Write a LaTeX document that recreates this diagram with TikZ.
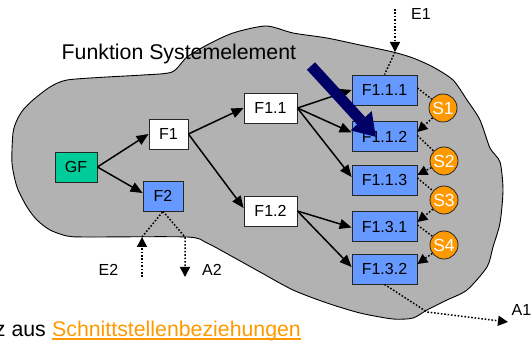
\documentclass[tikz,border=0pt]{standalone}
\usepackage{fontspec}
\setmainfont{Liberation Sans}
\usetikzlibrary{arrows.meta}
\definecolor{blobgray}{HTML}{B2B2B2}
\definecolor{fnblue}{HTML}{6699FF}
\definecolor{gfgreen}{HTML}{00CC99}
\definecolor{sorange}{HTML}{FF9900}
\definecolor{navyarrow}{HTML}{000066}

\begin{document}
\begin{tikzpicture}[x=1pt,y=-1pt,
  fbox/.style={draw=black!85, line width=0.8pt, inner sep=0pt,
    minimum height=30pt, font=\fontsize{16}{19}\selectfont},
  whitebox/.style={fbox, fill=white},
  bluebox/.style={fbox, fill=fnblue, minimum width=65pt},
  greenbox/.style={fbox, fill=gfgreen, minimum width=42pt},
  sball/.style={circle, draw=black!85, line width=0.8pt, fill=sorange,
    minimum size=28pt, inner sep=0pt, text=white,
    font=\fontsize{17.5}{20}\selectfont},
  lbl/.style={inner sep=0pt, font=\fontsize{16}{19}\selectfont},
  conn/.style={line width=1.5pt, -{Triangle[length=12pt 0 0,width=10pt 0 0]}},
  dots/.style={line width=1.5pt, dash pattern=on 1.6pt off 1.8pt},
  dotarrow/.style={dots, -{Triangle[length=10pt 0 0,width=10pt 0 0]}}
]
\useasboundingbox (0,0) rectangle (531,342);

% system boundary
\filldraw[fill=blobgray, draw=black, line width=0.9pt]
  plot[smooth cycle, tension=0.45] coordinates {
    (266,26) (293,33) (327,38) (360,45) (393,52) (413,58) (433,67)
    (453,80) (467,100) (480,120) (490,148) (500,162) (503,190)
    (500,223) (493,247) (487,267) (467,290) (447,300) (427,310)
    (413,318) (393,319) (360,313) (327,303) (293,290) (260,272)
    (233,257) (207,243) (187,237) (87,237) (67,236) (50,230)
    (37,220) (27,207) (17,187) (12,163) (13,133) (17,120) (23,110)
    (33,100) (50,87) (67,80) (107,77) (143,75) (172,72) (187,57)
    (207,45) (233,33)};

% title
\node[anchor=base west, inner sep=0pt, font=\fontsize{21.3}{25}\selectfont]
  (title) at (61.5,60) {Funktion Systemelement};

% function boxes
\node[greenbox] (GF) at (76,167) {GF};
\node[whitebox, minimum width=39pt] (F1) at (168.5,134) {F1};
\node[fbox, fill=fnblue, minimum width=40pt] (F2) at (163,196) {F2};
\node[whitebox, minimum width=53pt] (F11) at (270.5,108) {F1.1};
\node[whitebox, minimum width=53pt] (F12) at (270.5,211) {F1.2};
\node[bluebox] (F111) at (384.5,90) {F1.1.1};
\node[bluebox] (F112) at (384.5,136.5) {F1.1.2};
\node[bluebox] (F113) at (384.5,180) {F1.1.3};
\node[bluebox] (F131) at (384.5,226.5) {F1.3.1};
\node[bluebox] (F132) at (384.5,269) {F1.3.2};

% interface elements
\node[sball] (S1) at (443,108) {S1};
\node[sball] (S2) at (444,161) {S2};
\node[sball] (S3) at (444,200) {S3};
\node[sball] (S4) at (444,245) {S4};

% function structure
\draw[conn] (GF.east) -- (F1.west);
\draw[conn] (GF.east) -- ([yshift=3pt]F2.west);
\draw[conn] (F1.east) -- (F11.west);
\draw[conn] (F1.east) -- ([yshift=3pt]F12.west);
\draw[conn] (F11.east) -- (F111.west);
\draw[conn] (F11.east) -- ([yshift=4pt]F112.west);
\draw[conn] (F11.east) -- ([yshift=3pt]F113.west);
\draw[conn] (F12.east) -- ([yshift=-1pt]F131.west);
\draw[conn] (F12.east) -- ([yshift=2pt]F132.west);

% interface relations
\draw[dots] ([yshift=2pt]F111.east) -- (S1);
\draw[dotarrow] (S1) -- ([yshift=4.5pt]F112.east);
\draw[dots] ([yshift=1pt]F112.east) -- (S2);
\draw[dotarrow] (S2) -- ([yshift=5pt]F113.east);
\draw[dots] ([yshift=2pt]F113.east) -- (S3);
\draw[dotarrow] (S3) -- ([yshift=4.5pt]F131.east);
\draw[dots] ([yshift=1.5pt]F131.east) -- (S4);
\draw[dotarrow] (S4) -- ([yshift=5pt]F132.east);

% inputs and outputs across the boundary
\coordinate (e1top) at (395,9);
\coordinate (e1in) at (395,52);
\draw[dotarrow] (e1top) -- (e1in);
\draw[dots] (e1in) -- (F111.north);
\node[lbl] (E1) at (421,13.5) {E1};

\coordinate (e2bot) at (142,277);
\coordinate (e2in) at (142,237);
\draw[dotarrow] (e2bot) -- (e2in);
\draw[dots] (e2in) -- (F2.south);
\node[lbl] (E2) at (108.5,270) {E2};

\coordinate (a2in) at (185,237);
\coordinate (a2bot) at (185,277);
\draw[dotarrow] (F2.south) -- (a2in) -- (a2bot);
\node[lbl] (A2) at (212,270) {A2};

\coordinate (a1out) at (427,312);
\coordinate (a1end) at (508,322);
\draw[dotarrow] (F132.south) -- (a1out) -- (a1end);
\node[lbl, anchor=west] (A1) at (511.5,310) {A1};

% pointer to a system element function
\coordinate (ptail) at (311,66);
\coordinate (phead) at (376,137);
\draw[navyarrow, line width=11pt,
  -{Triangle[length=22pt 0 0,width=27pt 0 0]}] (ptail) -- (phead);

% caption line
\node[anchor=base west, inner sep=0pt, text=sorange,
  font=\fontsize{21.3}{25}\selectfont] (link) at (52,337)
  {Schnittstellenbeziehungen};
\node[anchor=base east, inner sep=0pt, font=\fontsize{21.3}{25}\selectfont]
  (pre) at ([xshift=-5.9pt]link.base west) {z aus};
\draw[sorange, line width=1.5pt]
  ([yshift=-2pt]link.base west) -- ([yshift=-2pt]link.base east);
\end{tikzpicture}
\end{document}
